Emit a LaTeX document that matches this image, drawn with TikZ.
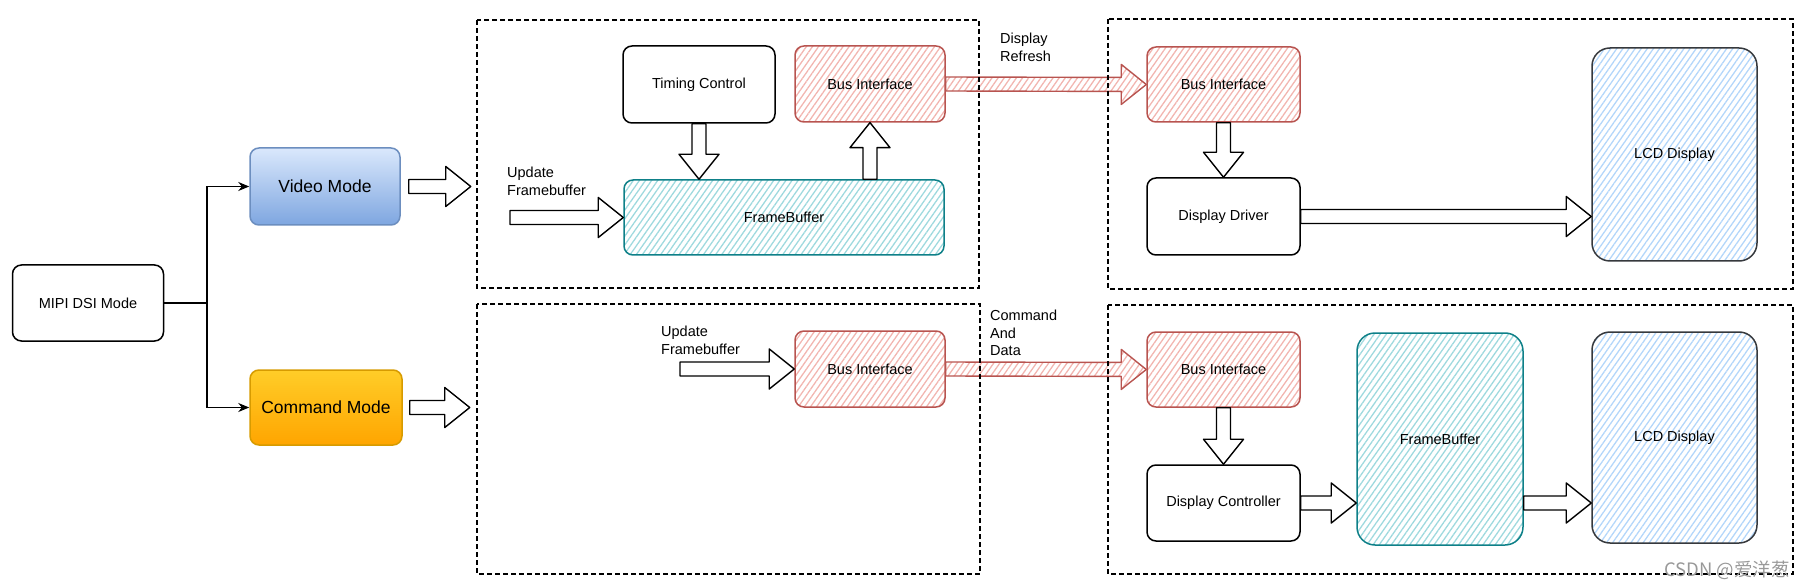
\documentclass[tikz,border=0pt]{standalone}
\usepackage{fontspec}
\setmainfont{Liberation Sans}
\newfontfamily\cjkfont{Noto Sans CJK SC}
\usetikzlibrary{calc,positioning,arrows.meta,patterns.meta}

\definecolor{redline}{HTML}{B85450}
\definecolor{redhatch}{HTML}{F2B5B0}
\definecolor{tealline}{HTML}{0E8088}
\definecolor{tealhatch}{HTML}{9ED9DE}
\definecolor{lcdline}{HTML}{36393D}
\definecolor{lcdhatch}{HTML}{B3D6FA}
\definecolor{vidtop}{HTML}{DAE8FC}
\definecolor{vidbot}{HTML}{7EA6E0}
\definecolor{vidline}{HTML}{6C8EBF}
\definecolor{cmdtop}{HTML}{FFCD28}
\definecolor{cmdbot}{HTML}{FFA500}
\definecolor{cmdline}{HTML}{D79B00}

% hollow block arrow from #2 to #3
\newcommand{\fatarrow}[3][draw=black]{%
  \coordinate (fah) at ($(#3)!25pt!(#2)$);
  \draw[line width=1.4pt, line join=round, #1]
    ($(#2)!7pt!90:(#3)$) -- ($(fah)!7pt!-90:(#2)$) -- ($(fah)!20pt!-90:(#2)$) -- (#3)
    -- ($(fah)!20pt!90:(#2)$) -- ($(fah)!7pt!90:(#2)$) -- ($(#2)!7pt!-90:(#3)$) -- cycle;
}

\begin{document}
\begin{tikzpicture}[x=1pt,y=1pt]
\tikzstyle{every node}+=[font=\fontsize{14.5}{17.5}\selectfont]
\tikzstyle{blk}=[draw, line width=1.5pt, rounded corners=9pt, inner sep=0pt, minimum width=152pt, minimum height=76pt]
\tikzstyle{busif}=[blk, draw=redline, pattern={Lines[angle=55,distance=5pt,line width=1.3pt]}, pattern color=redhatch]
\tikzstyle{fbuf}=[blk, draw=tealline, pattern={Lines[angle=55,distance=5pt,line width=1.3pt]}, pattern color=tealhatch]
\tikzstyle{lcd}=[blk, draw=lcdline, rounded corners=18pt, pattern={Lines[angle=55,distance=5pt,line width=1.3pt]}, pattern color=lcdhatch]
\tikzstyle{lbl}=[align=left, inner sep=0pt, anchor=north west]
\tikzstyle{group}=[line width=1.2pt, dash pattern=on 5pt off 3pt]
\tikzstyle{link}=[line width=1.3pt, -{Stealth[length=11pt,width=9pt]}]
\tikzstyle{redarrow}=[draw=redline, pattern={Lines[angle=55,distance=5pt,line width=1.3pt]}, pattern color=redhatch]
\useasboundingbox (0,0) rectangle (1805,-588);

% modes
\node[blk, minimum width=151pt] (mipi) at (88,-303) {MIPI DSI Mode};
\node[blk, draw=vidline, top color=vidtop, bottom color=vidbot, minimum width=150pt, minimum height=77pt,
  font=\fontsize{17.5}{21}\selectfont] (video) at (325,-186.5) {Video Mode};
\node[blk, draw=cmdline, top color=cmdtop, bottom color=cmdbot, minimum height=75pt,
  font=\fontsize{17.5}{21}\selectfont] (cmd) at (326,-407.5) {Command Mode};

% video mode host side
\node[blk, minimum height=77pt] (tc) at (699,-84.5) {Timing Control};
\node[busif, minimum width=150pt] (bi1) at (870,-84) {Bus Interface};
\node[fbuf, minimum width=320pt, minimum height=75pt] (fb1) at (784,-217.5) {FrameBuffer};
\node[lbl] (upd1) at (507,-167) {Update\\Framebuffer};

% command mode host side
\node[busif, minimum width=150pt] (bi2) at (870,-369) {Bus Interface};
\node[lbl] (upd2) at (661,-326) {Update\\Framebuffer};

% video mode panel side
\node[busif, minimum width=153pt, minimum height=75pt] (bi3) at (1223.5,-84.5) {Bus Interface};
\node[blk, minimum width=153pt, minimum height=77pt] (dd) at (1223.5,-216.5) {Display Driver};
\node[lcd, minimum width=165pt, minimum height=213pt] (lcd1) at (1674.5,-154.5) {LCD Display};
\node[lbl] (refresh) at (1000,-33) {Display\\Refresh};

% command mode panel side
\node[busif, minimum width=153pt, minimum height=75pt] (bi4) at (1223.5,-369.5) {Bus Interface};
\node[blk, minimum width=153pt] (dc) at (1223.5,-503) {Display Controller};
\node[fbuf, rounded corners=18pt, minimum width=166pt, minimum height=212pt] (fb2) at (1440,-439) {FrameBuffer};
\node[lcd, minimum width=165pt, minimum height=211pt] (lcd2) at (1674.5,-437.5) {LCD Display};
\node[lbl] (cmddata) at (990,-310) {Command\\And\\Data};

% branch
\coordinate (split) at (207,-303);
\draw[line width=1.3pt] (mipi.east) -- (split);
\draw[link] (split) |- (video.west);
\draw[link] (split) |- (cmd.west);

% block arrows
\coordinate[right=8pt of video.east] (vs);
\coordinate[right=70pt of video.east] (ve);
\coordinate[right=7pt of cmd.east] (cs);
\coordinate[right=67pt of cmd.east] (ce);
\fatarrow{vs}{ve}
\fatarrow{cs}{ce}
\coordinate (u1s) at (510,-217.5);
\fatarrow{u1s}{fb1.west}
\coordinate (tcin) at (tc.south |- fb1.north);
\fatarrow{tc.south}{tcin}
\coordinate (fbout) at (bi1.south |- fb1.north);
\fatarrow{fbout}{bi1.south}
\coordinate (u2s) at (680,-369);
\fatarrow{u2s}{bi2.west}
\fatarrow[redarrow]{bi1.east}{bi3.west}
\fatarrow[redarrow]{bi2.east}{bi4.west}
\fatarrow{bi3.south}{dd.north}
\coordinate (lcdin) at (lcd1.west |- dd.east);
\fatarrow{dd.east}{lcdin}
\fatarrow{bi4.south}{dc.north}
\coordinate (fbin) at (fb2.west |- dc.east);
\fatarrow{dc.east}{fbin}
\coordinate (fbo) at (fb2.east |- dc.east);
\coordinate (lcdin2) at (lcd2.west |- dc.east);
\fatarrow{fbo}{lcdin2}

% dashed groups
\draw[group] (477,-20) rectangle (979,-288);
\draw[group] (477,-304) rectangle (980,-574);
\draw[group] (1108,-19) rectangle (1793,-289);
\draw[group] (1108,-305) rectangle (1793,-574);

\node[anchor=base east, text=gray!80, inner sep=0pt, font=\cjkfont\fontsize{18.5}{20}\selectfont] (mark) at (1790,-576) {CSDN @爱洋葱};
\end{tikzpicture}
\end{document}
